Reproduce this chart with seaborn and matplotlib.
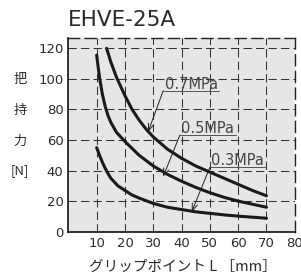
import pandas as pd
import seaborn as sns
import matplotlib.pyplot as plt

# grip point L [mm] vs gripping force [N]
l_07 = [13.5, 15, 17, 20, 22.5, 25, 27.5, 30, 35, 40, 45, 50, 55, 60, 65, 70]
f_07 = [120, 111, 101, 89, 80, 73, 67, 62, 54, 48, 43, 39, 35, 31, 27, 23.5]
l_05 = [10, 10.5, 11, 12, 13, 14, 15, 17, 20, 25, 30, 35, 40, 45, 50, 55, 60, 65, 70]
f_05 = [115.5, 108, 101, 90, 82, 76, 71.5, 65, 59, 50, 43, 37.5, 33, 29, 25.5, 22.5, 20, 18, 16]
l_03 = [10, 11, 12, 13, 14, 15, 17.5, 20, 22.5, 25, 30, 35, 40, 45, 50, 55, 60, 65, 70]
f_03 = [55, 50, 45.5, 41.5, 38, 35, 30, 27, 24, 22, 18.5, 16, 14.5, 13, 12, 11, 10.2, 9.5, 8.8]
pressures = ['0.7MPa', '0.5MPa', '0.3MPa']

x_ticks = [10, 20, 30, 40, 50, 60, 70, 80]
y_ticks = [0, 20, 40, 60, 80, 100, 120]

# where each pressure label sits and where its leader arrow points
label_xy = [(33.5, 92.2), (39.4, 63.2), (50.0, 42.1)]
arrow_xy = [(28.2, 65.4), (33.5, 36.0), (43.6, 13.1)]

df = pd.concat([
    pd.DataFrame({'L': l_07, 'F': f_07, 'p': pressures[0]}),
    pd.DataFrame({'L': l_05, 'F': f_05, 'p': pressures[1]}),
    pd.DataFrame({'L': l_03, 'F': f_03, 'p': pressures[2]}),
])

sns.set_style('white')
plt.rcParams['font.family'] = ['DejaVu Sans', 'Noto Sans CJK JP']
txt = '#2a2a2a'
dash = (0, (8, 4))

fig = plt.figure(figsize=(3.01, 2.76), dpi=100)
ax = fig.add_axes([0.2272, 0.1605, 0.752, 0.7007])
ax.set_facecolor('#e6e6e6')

for v in x_ticks[:-1]:
    ax.axvline(v, color='#333333', lw=0.75, ls=dash, zorder=1)
for v in y_ticks[1:]:
    ax.axhline(v, color='#333333', lw=0.75, ls=dash, zorder=1)

sns.lineplot(data=df, x='L', y='F', hue='p', units='p', estimator=None, sort=False,
             palette=['#1a1a1a'] * 3, lw=2.2, legend=False, ax=ax, zorder=3)

for name, (lx, ly), (axx, ayy) in zip(pressures, label_xy, arrow_xy):
    ax.text(lx + 0.5, ly + 1.3, name, fontsize=10.5, color='#444444', ha='left', va='baseline', zorder=4)
    ax.plot([lx, lx + 19.8], [ly, ly], color='#555555', lw=0.7, zorder=4)
    ax.annotate('', xy=(axx, ayy), xytext=(lx, ly),
                arrowprops=dict(arrowstyle='->,head_length=0.5,head_width=0.2',
                                color='#222222', lw=0.7, shrinkA=0, shrinkB=0), zorder=4)

ax.set_xlim(0, 80)
ax.set_ylim(0, 126.5)
ax.set_xticks(x_ticks)
ax.set_yticks(y_ticks)
ax.tick_params(length=0, labelsize=9.5, colors=txt, pad=3.5)
ax.set_xlabel('')
ax.set_ylabel('')

for s in ['left', 'bottom']:
    ax.spines[s].set_color('#111111')
    ax.spines[s].set_linewidth(1.2)
for s in ['top', 'right']:
    ax.spines[s].set_color('#222222')
    ax.spines[s].set_linewidth(1.0)
    ax.spines[s].set_linestyle(dash)

fig.text(68 / 301, 1 - 20 / 276, 'EHVE-25A', ha='left', va='center', fontsize=15.5, color=txt)
for ch, yy in zip(['把', '持', '力', '[N]'], [80, 110.5, 141, 171]):
    fig.text(20 / 301, 1 - yy / 276, ch, ha='center', va='center', fontsize=9.5,
             color=txt, family=['Noto Sans CJK JP', 'DejaVu Sans'])
fig.text(183 / 301, 1 - 267 / 276, 'グリップポイント L ［mm］', ha='center', va='center',
         fontsize=10.5, color=txt, family=['Noto Sans CJK JP', 'DejaVu Sans'])

fig.savefig('out.png', dpi=100)
